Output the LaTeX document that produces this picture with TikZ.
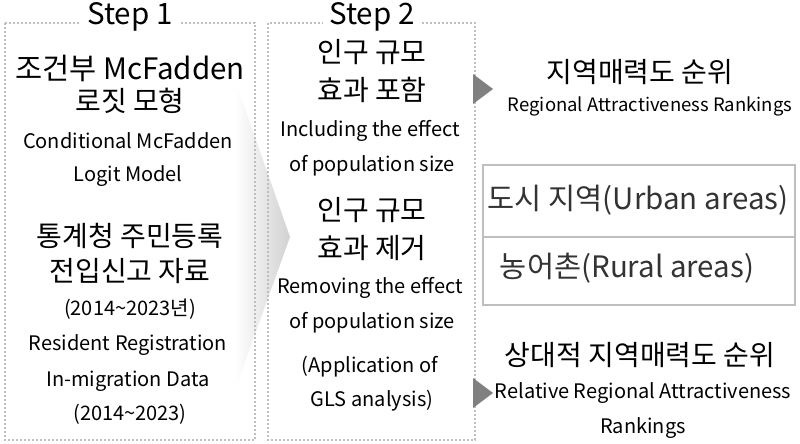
\documentclass[tikz,border=0pt]{standalone}
\usepackage{fontspec}
\setmainfont{Noto Sans CJK KR}
\begin{document}
\begin{tikzpicture}[x=1pt,y=-1pt,
  big/.style={font=\fontsize{28}{30}\selectfont,inner sep=0pt},
  bigl/.style={font=\fontsize{29.5}{30}\selectfont,inner sep=0pt},
  med/.style={font=\fontsize{20}{22}\selectfont,inner sep=0pt},
  sml/.style={font=\fontsize{18.5}{20}\selectfont,inner sep=0pt},
  dbox/.style={draw=black!25,line width=2pt,dotted},
  tri/.style={fill=black!50,draw=none}]
\useasboundingbox (0,0) rectangle (800,444);
\shade[left color=white,right color=black!18,draw=none] (235,80) -- (290,237) -- (235,390) -- cycle;
\draw[dbox] (5,23) rectangle (255,440);
\draw[dbox] (268,23) rectangle (475,440);
\node[bigl,fill=white,inner xsep=6pt] (s1) at (130,17) {Step 1};
\node[bigl,fill=white,inner xsep=6pt] (s2) at (372,17) {Step 2};
\node[bigl] (a1) at (130,68) {조건부 McFadden};
\node[big] (a2) at (130,101) {로짓 모형};
\node[med] (a3) at (128,141) {Conditional McFadden};
\node[med] (a4) at (128,176) {Logit Model};
\node[big] (a5) at (130,236) {통계청 주민등록};
\node[big] (a6) at (130,271) {전입신고 자료};
\node[med] (a7) at (130,309) {(2014\textasciitilde2023년)};
\node[med] (a8) at (128,345) {Resident Registration};
\node[med] (a9) at (128,381) {In-migration Data};
\node[med] (a10) at (130,414) {(2014\textasciitilde2023)};
\node[big] (b1) at (372,52) {인구 규모};
\node[big] (b2) at (372,90) {효과 포함};
\node[med] (b3) at (370,131) {Including the effect};
\node[med] (b4) at (372,166) {of population size};
\node[big] (b5) at (372,210) {인구 규모};
\node[big] (b6) at (372,248) {효과 제거};
\node[med] (b7) at (370,288) {Removing the effect};
\node[med] (b8) at (372,323) {of population size};
\node[med] (b9) at (370,367) {(Application of};
\node[med] (b10) at (372,401) {GLS analysis)};
\fill[tri] (473,74) -- (493,89) -- (473,104) -- cycle;
\fill[tri] (473,378) -- (493,393) -- (473,408) -- cycle;
\node[big] (c1) at (640,72) {지역매력도 순위};
\node[sml] (c2) at (650,106) {Regional Attractiveness Rankings};
\draw[black!25,line width=2pt] (483,165) rectangle (795,305);
\draw[black!25,line width=2pt] (483,237) -- (795,237);
\node[bigl,text=black!80] (u) at (638,200) {도시 지역(Urban areas)};
\node[bigl,text=black!80] (r) at (627,268) {농어촌(Rural areas)};
\node[big] (c3) at (640,355) {상대적 지역매력도 순위};
\node[med] (c4) at (643,393) {Relative Regional Attractiveness};
\node[med] (c5) at (643,428) {Rankings};
\end{tikzpicture}
\end{document}
